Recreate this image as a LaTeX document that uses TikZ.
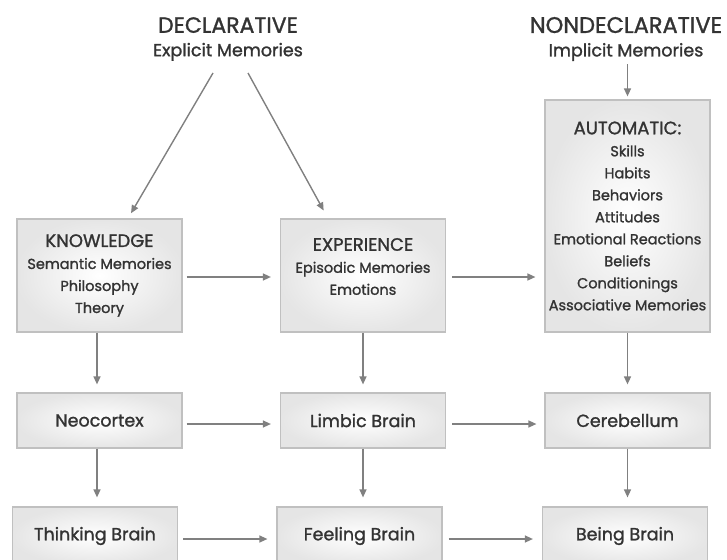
\documentclass[tikz,border=0pt]{standalone}
\usepackage{fontspec}
\setmainfont{Poppins}[FakeBold=1.3]
\usetikzlibrary{arrows.meta,calc}
\definecolor{txt}{HTML}{333333}
\definecolor{arrowgray}{HTML}{808080}
\definecolor{boxedge}{HTML}{C0C0C0}
\newcommand{\capsline}[1]{{\fontsize{18}{22}\selectfont #1}}
\tikzset{
  box/.style={draw=boxedge, line width=1.2pt, inner color=white, outer color=gray!20,
    minimum width=165pt, align=center, text=txt, font=\fontsize{14.5}{22}\selectfont, inner sep=0pt},
  brainbox/.style={box, font=\fontsize{17.5}{22}\selectfont},
  title/.style={align=center, text=txt, inner sep=1pt},
  arr/.style={draw=arrowgray, line width=1.4pt, -{Triangle[length=8pt,width=7pt]}},
}
\begin{document}
\begin{tikzpicture}[x=1pt,y=-1pt]
\useasboundingbox (0,0) rectangle (727,559);
% titles
\node[title] (decl) at (228,39) {{\fontsize{22}{24}\selectfont DECLARATIVE}\\[9pt]{\fontsize{17.5}{20}\selectfont Explicit Memories}};
\node[title] (nondecl) at (626,39) {{\fontsize{22.5}{24}\selectfont NONDECLARATIVE}\\[9pt]{\fontsize{17.5}{20}\selectfont Implicit Memories}};
% row 1
\node[box, minimum height=113pt] (know) at (99.5,275.5) {\capsline{KNOWLEDGE}\\Semantic Memories\\Philosophy\\Theory};
\node[box, minimum height=113pt] (exp) at (363,275.5) {};
\node[text=txt, align=center, font=\fontsize{14.5}{22}\selectfont] (exptxt) at (363,266.5) {\capsline{EXPERIENCE}\\Episodic Memories\\Emotions};
\node[box, minimum height=232pt] (auto) at (627.5,216) {\capsline{AUTOMATIC:}\\Skills\\Habits\\Behaviors\\Attitudes\\Emotional Reactions\\Beliefs\\Conditionings\\Associative Memories};
% row 2
\node[brainbox, minimum height=55pt] (neo) at (99.5,420.5) {Neocortex};
\node[brainbox, minimum height=55pt] (limbic) at (363,420.5) {Limbic Brain};
\node[brainbox, minimum height=55pt] (cereb) at (627.5,420.5) {Cerebellum};
% row 3
\node[brainbox, minimum height=58pt] (think) at (95,536) {Thinking Brain};
\node[brainbox, minimum height=58pt] (feel) at (359.5,536) {Feeling Brain};
\node[brainbox, minimum height=58pt] (being) at (625,536) {Being Brain};
% arrows from titles
\coordinate (d1) at (213,73);
\coordinate (d2) at (248,73);
\draw[arr, shorten >=6pt] (d1) -- ($(know.north)+(28.5,0)$);
\draw[arr, shorten >=9pt] (d2) -- ($(exp.north)+(-35,0)$);
\draw[arr, shorten <=2pt, shorten >=3pt] (nondecl.south -| auto.north) -- (auto.north);
% horizontal arrows
\draw[arr, shorten <=4pt, shorten >=9pt] ($(know.east)+(0,1.5)$) -- ($(exp.west)+(0,1.5)$);
\draw[arr, shorten <=6pt, shorten >=9pt] ($(exp.east)+(0,1.5)$) -- ($(auto.west |- exp.east)+(0,1.5)$);
\draw[arr, shorten <=4pt, shorten >=9pt] ($(neo.east)+(0,3.5)$) -- ($(limbic.west)+(0,3.5)$);
\draw[arr, shorten <=6pt, shorten >=8pt] ($(limbic.east)+(0,3.5)$) -- ($(cereb.west)+(0,3.5)$);
\draw[arr, shorten <=5pt, shorten >=9pt] ($(think.east)+(0,3)$) -- ($(feel.west)+(0,3)$);
\draw[arr, shorten <=6pt, shorten >=9pt] ($(feel.east)+(0,3)$) -- ($(being.west)+(0,3)$);
% vertical arrows
\draw[arr, shorten >=8pt] ($(know.south)+(-2.5,0)$) -- ($(neo.north)+(-2.5,0)$);
\draw[arr, shorten >=8pt] (exp.south) -- (limbic.north);
\draw[arr, shorten >=8pt] (auto.south) -- (cereb.north);
\draw[arr, shorten >=9pt] ($(neo.south)+(-2.5,0)$) -- ($(think.north -| neo.south)+(-2.5,0)$);
\draw[arr, shorten >=9pt] (limbic.south) -- (feel.north -| limbic.south);
\draw[arr, shorten >=9pt] (cereb.south) -- (being.north -| cereb.south);
\end{tikzpicture}
\end{document}
